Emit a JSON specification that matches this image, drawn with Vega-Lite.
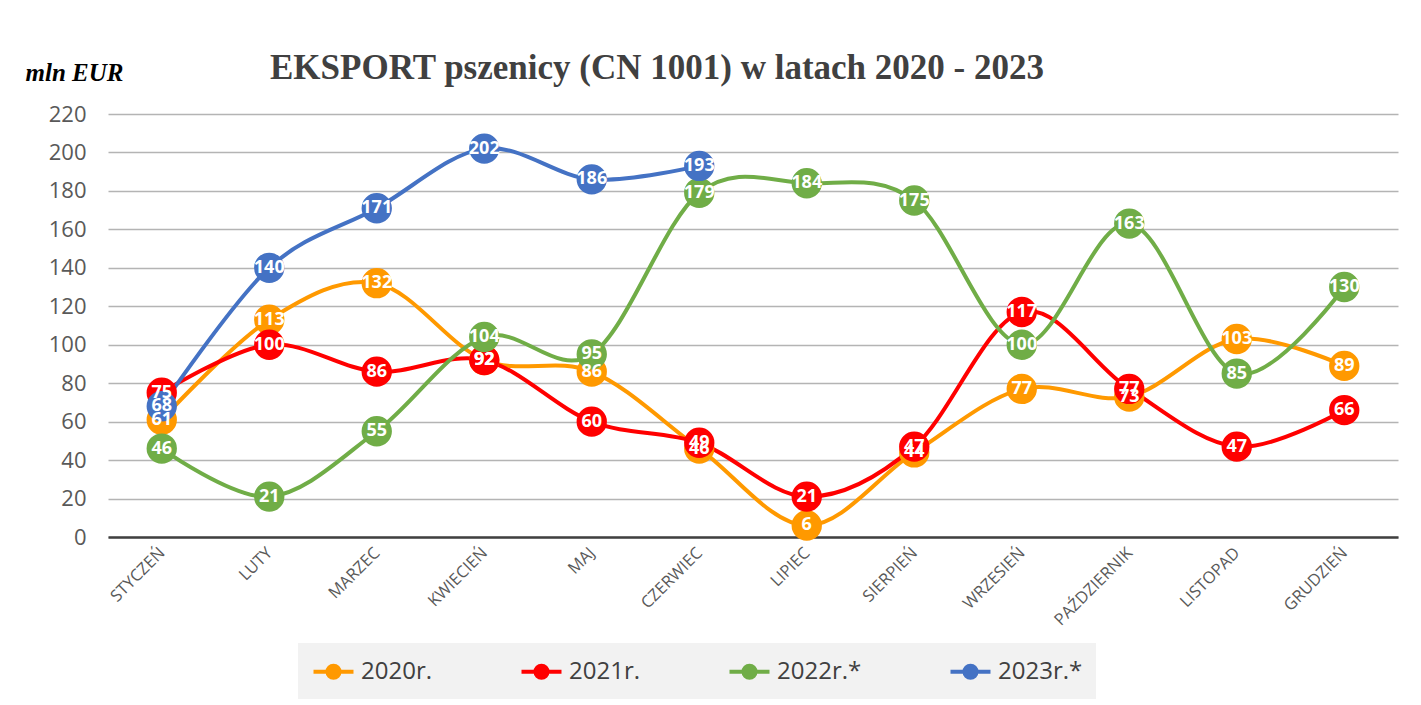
{
  "$schema": "https://vega.github.io/schema/vega-lite/v6.json",
  "width": 1290,
  "height": 423,
  "autosize": "none",
  "padding": {"left": 108, "top": 114, "right": 23, "bottom": 168},
  "background": "white",
  "title": {
    "text": "EKSPORT pszenicy (CN 1001) w latach 2020 - 2023",
    "anchor": "start",
    "frame": "group",
    "dx": 162,
    "dy": 54,
    "offset": 0,
    "font": "Liberation Serif",
    "fontSize": 35,
    "fontWeight": "bold",
    "color": "#404040",
    "baseline": "alphabetic"
  },
  "data": {
    "values": [
      {"m": "STYCZEŃ", "s": "2020r.", "v": 61},
      {"m": "LUTY", "s": "2020r.", "v": 113},
      {"m": "MARZEC", "s": "2020r.", "v": 132},
      {"m": "KWIECIEŃ", "s": "2020r.", "v": 92},
      {"m": "MAJ", "s": "2020r.", "v": 86},
      {"m": "CZERWIEC", "s": "2020r.", "v": 46},
      {"m": "LIPIEC", "s": "2020r.", "v": 6},
      {"m": "SIERPIEŃ", "s": "2020r.", "v": 44},
      {"m": "WRZESIEŃ", "s": "2020r.", "v": 77},
      {"m": "PAŹDZIERNIK", "s": "2020r.", "v": 73},
      {"m": "LISTOPAD", "s": "2020r.", "v": 103},
      {"m": "GRUDZIEŃ", "s": "2020r.", "v": 89},
      {"m": "STYCZEŃ", "s": "2021r.", "v": 75},
      {"m": "LUTY", "s": "2021r.", "v": 100},
      {"m": "MARZEC", "s": "2021r.", "v": 86},
      {"m": "KWIECIEŃ", "s": "2021r.", "v": 92},
      {"m": "MAJ", "s": "2021r.", "v": 60},
      {"m": "CZERWIEC", "s": "2021r.", "v": 49},
      {"m": "LIPIEC", "s": "2021r.", "v": 21},
      {"m": "SIERPIEŃ", "s": "2021r.", "v": 47},
      {"m": "WRZESIEŃ", "s": "2021r.", "v": 117},
      {"m": "PAŹDZIERNIK", "s": "2021r.", "v": 77},
      {"m": "LISTOPAD", "s": "2021r.", "v": 47},
      {"m": "GRUDZIEŃ", "s": "2021r.", "v": 66},
      {"m": "STYCZEŃ", "s": "2022r.*", "v": 46},
      {"m": "LUTY", "s": "2022r.*", "v": 21},
      {"m": "MARZEC", "s": "2022r.*", "v": 55},
      {"m": "KWIECIEŃ", "s": "2022r.*", "v": 104},
      {"m": "MAJ", "s": "2022r.*", "v": 95},
      {"m": "CZERWIEC", "s": "2022r.*", "v": 179},
      {"m": "LIPIEC", "s": "2022r.*", "v": 184},
      {"m": "SIERPIEŃ", "s": "2022r.*", "v": 175},
      {"m": "WRZESIEŃ", "s": "2022r.*", "v": 100},
      {"m": "PAŹDZIERNIK", "s": "2022r.*", "v": 163},
      {"m": "LISTOPAD", "s": "2022r.*", "v": 85},
      {"m": "GRUDZIEŃ", "s": "2022r.*", "v": 130},
      {"m": "STYCZEŃ", "s": "2023r.*", "v": 68},
      {"m": "LUTY", "s": "2023r.*", "v": 140},
      {"m": "MARZEC", "s": "2023r.*", "v": 171},
      {"m": "KWIECIEŃ", "s": "2023r.*", "v": 202},
      {"m": "MAJ", "s": "2023r.*", "v": 186},
      {"m": "CZERWIEC", "s": "2023r.*", "v": 193}
    ]
  },
  "encoding": {
    "x": {
      "field": "m",
      "type": "ordinal",
      "sort": ["STYCZEŃ", "LUTY", "MARZEC", "KWIECIEŃ", "MAJ", "CZERWIEC", "LIPIEC", "SIERPIEŃ", "WRZESIEŃ", "PAŹDZIERNIK", "LISTOPAD", "GRUDZIEŃ"],
      "scale": {"type": "point", "padding": 0.5},
      "axis": {
        "title": null,
        "labelAngle": -45,
        "labelAlign": "right",
        "labelBaseline": "middle",
        "labelPadding": 13,
        "labelFont": "Open Sans",
        "labelFontSize": 16.5,
        "labelColor": "#595959",
        "ticks": false,
        "domain": true,
        "domainColor": "#404040",
        "domainWidth": 2.5,
        "grid": false
      }
    },
    "y": {
      "field": "v",
      "type": "quantitative",
      "scale": {"domain": [0, 220], "nice": false},
      "axis": {
        "values": [0, 20, 40, 60, 80, 100, 120, 140, 160, 180, 200, 220],
        "title": "mln EUR",
        "titleAngle": 0,
        "titleAlign": "left",
        "titleBaseline": "alphabetic",
        "titleX": -83,
        "titleY": -34,
        "titleFont": "Liberation Serif",
        "titleFontSize": 25,
        "titleFontStyle": "italic",
        "titleFontWeight": "bold",
        "titleColor": "#000000",
        "labelFont": "Open Sans",
        "labelFontSize": 22,
        "labelColor": "#595959",
        "labelPadding": 22,
        "ticks": false,
        "domain": false,
        "grid": true,
        "gridColor": "#b4b4b4",
        "gridWidth": 1.5
      }
    },
    "color": {
      "field": "s",
      "type": "nominal",
      "scale": {
        "domain": ["2020r.", "2021r.", "2022r.*", "2023r.*"],
        "range": ["#FF9900", "#FF0000", "#70AD47", "#4472C4"]
      },
      "legend": {
        "title": null,
        "orient": "none",
        "direction": "horizontal",
        "legendX": 190,
        "legendY": 529,
        "fillColor": "#F2F2F2",
        "padding": 13,
        "labelFont": "Open Sans",
        "labelFontSize": 24,
        "labelColor": "#404040",
        "labelOffset": 12,
        "columnPadding": 80,
        "symbolType": "M-1.5,0L1.5,0M0.45,0A0.45,0.45 0 1,1 -0.45,0A0.45,0.45 0 1,1 0.45,0M0.2,0A0.2,0.2 0 1,1 -0.2,0A0.2,0.2 0 1,1 0.2,0",
        "symbolSize": 711,
        "symbolStrokeWidth": 4,
        "symbolOffset": 7
      }
    }
  },
  "layer": [
    {
      "mark": {"type": "line", "interpolate": "cardinal", "strokeWidth": 4}
    },
    {
      "mark": {"type": "point", "filled": true, "size": 920, "opacity": 1, "shape": "circle"}
    },
    {
      "mark": {"type": "text", "font": "Open Sans", "fontSize": 18, "fontWeight": "bold", "color": "white", "baseline": "middle", "align": "center"},
      "encoding": {
        "text": {"field": "v", "type": "quantitative"},
        "color": {"value": "white"}
      }
    }
  ],
  "config": {
    "view": {"stroke": null}
  }
}
